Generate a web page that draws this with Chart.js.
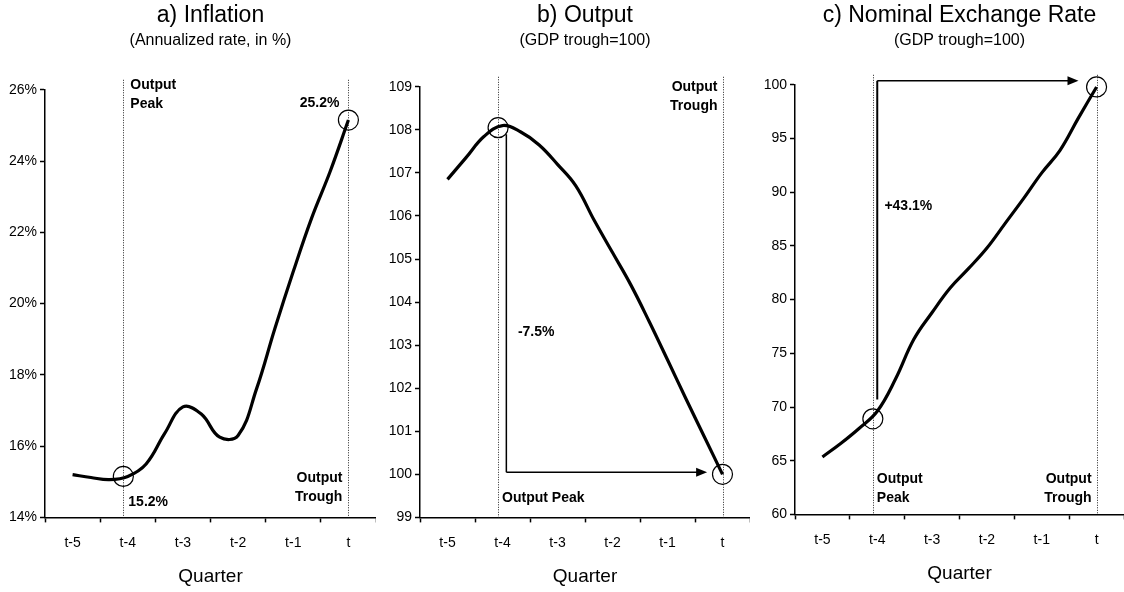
<!DOCTYPE html>
<html>
<head>
<meta charset="utf-8">
<script src="https://cdn.jsdelivr.net/npm/chart.js"></script>
<style>
  body { margin: 0; background: #fff; }
  .panel { position: absolute; top: 0; height: 592px; }
</style>
</head>
<body>
<div class="panel" style="left:0;width:376px"><canvas id="chartA"></canvas></div>
<div class="panel" style="left:375px;width:375px"><canvas id="chartB"></canvas></div>
<div class="panel" style="left:750px;width:374px"><canvas id="chartC"></canvas></div>
<script>
// quarters before the output trough, monthly steps (t-5 ... t)
const quarterLabels = ['t-5', 't-4', 't-3', 't-2', 't-1', 't'];
const months = [-5, -4.667, -4.333, -4, -3.667, -3.333, -3, -2.667, -2.333, -2, -1.667, -1.333, -1, -0.667, -0.333, 0];

const inflation = [15.2, 15.12, 15.06, 15.15, 15.5, 16.35, 17.1, 16.9, 16.25, 16.3, 17.6, 19.3, 20.9, 22.4, 23.7, 25.15];
const output    = [106.85, 107.35, 107.85, 108.1, 107.95, 107.65, 107.2, 106.7, 105.9, 105.15, 104.4, 103.55, 102.66, 101.76, 100.88, 100.0];
const exchange  = [65.35, 66.6, 68.0, 69.6, 72.6, 76.3, 78.8, 81.1, 82.9, 84.8, 87.1, 89.4, 91.8, 93.9, 96.9, 99.8];

// circled values at output peak and output trough
const peakQ = -4.08;
const inflationMarks = [15.15, 25.15];
const outputMarks = [108.05, 100.0];
const exchangeMarks = [68.9, 99.8];

const FONT = "'Liberation Sans', Arial, sans-serif";
Chart.defaults.font.family = FONT;
Chart.defaults.color = '#000';

function isWhole(v) { return Math.abs(v - Math.round(v)) < 1e-6; }

function notes(p) {
  return {
    id: 'notes' + p.id,
    beforeDatasetsDraw(chart) {
      const x = chart.scales.x, c = chart.ctx, a = chart.chartArea;
      c.save();
      c.strokeStyle = '#222';
      c.lineWidth = 1;
      c.setLineDash([1, 1.5]);
      [peakQ, 0].forEach(q => {
        const px = Math.round(x.getPixelForValue(q)) + 0.5;
        c.beginPath();
        c.moveTo(px, a.top - 10);
        c.lineTo(px, a.bottom);
        c.stroke();
      });
      c.restore();
    },
    afterDatasetsDraw(chart) {
      const x = chart.scales.x, y = chart.scales.y, c = chart.ctx;
      c.save();
      c.strokeStyle = '#000';
      c.fillStyle = '#000';
      // circles at peak and trough
      c.lineWidth = 1.2;
      [[peakQ, p.marks[0]], [0, p.marks[1]]].forEach(m => {
        c.beginPath();
        c.arc(x.getPixelForValue(m[0]), y.getPixelForValue(m[1]), 10, 0, Math.PI * 2);
        c.stroke();
      });
      (p.arrows || []).forEach(ar => {
        const x1 = x.getPixelForValue(ar.from[0]), y1 = y.getPixelForValue(ar.from[1]);
        const x2 = x.getPixelForValue(ar.to[0]), y2 = y.getPixelForValue(ar.to[1]);
        c.lineWidth = ar.width || 1.5;
        c.beginPath();
        c.moveTo(x1, y1);
        c.lineTo(ar.head ? x2 - 8 : x2, y2);
        c.stroke();
        if (ar.head) {
          c.beginPath();
          c.moveTo(x2, y2);
          c.lineTo(x2 - 11, y2 - 4.5);
          c.lineTo(x2 - 11, y2 + 4.5);
          c.closePath();
          c.fill();
        }
      });
      c.font = 'bold 14px ' + FONT;
      c.textBaseline = 'middle';
      p.texts.forEach(t => {
        c.textAlign = t.align;
        const px = x.getPixelForValue(t.q) + (t.dx || 0);
        const py = y.getPixelForValue(t.v);
        t.lines.forEach((s, i) => c.fillText(s, px, py + i * 19));
      });
      c.restore();
    }
  };
}

function drawPanel(p) {
  new Chart(document.getElementById(p.id), {
    type: 'line',
    data: {
      datasets: [{
        data: months.map((m, i) => ({ x: m, y: p.values[i] })),
        borderColor: '#000',
        borderWidth: 3.2,
        pointRadius: 0,
        tension: 0.4,
        clip: false
      }]
    },
    options: {
      responsive: true,
      maintainAspectRatio: false,
      animation: false,
      layout: { padding: { left: 0, right: 0, top: 0, bottom: p.bottom } },
      plugins: {
        legend: { display: false },
        tooltip: { enabled: false },
        title: {
          display: true, text: p.title, fullSize: false,
          font: { size: 23, weight: 'normal' }, color: '#000',
          padding: { top: 2, bottom: 0 }
        },
        subtitle: {
          display: true, text: p.subtitle, fullSize: false,
          font: { size: 16 }, color: '#000',
          padding: { top: 1, bottom: p.gap }
        }
      },
      scales: {
        x: {
          type: 'linear', min: -5.5, max: 0.5,
          afterFit: s => { s.paddingLeft = 0; s.paddingRight = 0; },
          border: { display: true, color: '#000', width: 1.5 },
          grid: {
            drawOnChartArea: false, tickLength: 5, tickWidth: 1.5,
            tickColor: ctx => isWhole(ctx.tick.value) ? 'rgba(0,0,0,0)' : '#000'
          },
          ticks: {
            stepSize: 0.5, autoSkip: false, maxRotation: 0, padding: 12,
            font: { size: 14 },
            callback: v => isWhole(v) ? (quarterLabels[Math.round(v) + 5] || '') : ''
          },
          title: {
            display: true, text: 'Quarter', font: { size: 19 }, color: '#000',
            padding: { top: 2, bottom: 4 }
          }
        },
        y: {
          min: p.min, max: p.max,
          afterFit: s => { s.width = 45; },
          border: { display: true, color: '#000', width: 1.5 },
          grid: { drawOnChartArea: false, tickLength: 5, tickWidth: 1.5, tickColor: '#000' },
          ticks: { stepSize: p.step, padding: 3, font: { size: 14 }, callback: p.fmt }
        }
      }
    },
    plugins: [notes(p)]
  });
}

drawPanel({
  id: 'chartA', title: 'a) Inflation', subtitle: '(Annualized rate, in %)',
  values: inflation, marks: inflationMarks, min: 14, max: 26, step: 2, gap: 40, bottom: 0,
  fmt: v => v + '%',
  texts: [
    { lines: ['Output', 'Peak'], q: peakQ, v: 26.14, dx: 7, align: 'left' },
    { lines: ['25.2%'], q: 0, v: 25.63, dx: -9, align: 'right' },
    { lines: ['15.2%'], q: peakQ, v: 14.43, dx: 5, align: 'left' },
    { lines: ['Output', 'Trough'], q: 0, v: 15.09, dx: -6, align: 'right' }
  ]
});

drawPanel({
  id: 'chartB', title: 'b) Output', subtitle: '(GDP trough=100)',
  values: output, marks: outputMarks, min: 99, max: 109, step: 1, gap: 37, bottom: 0,
  fmt: v => v,
  arrows: [
    { from: [-3.93, 107.9], to: [-3.93, 100.05] },
    { from: [-3.93, 100.05], to: [-0.28, 100.05], head: true }
  ],
  texts: [
    { lines: ['Output', 'Trough'], q: 0, v: 109.0, dx: -5, align: 'right' },
    { lines: ['-7.5%'], q: -3.72, v: 103.3, align: 'left' },
    { lines: ['Output Peak'], q: peakQ, v: 99.44, dx: 4, align: 'left' }
  ]
});

drawPanel({
  id: 'chartC', title: 'c) Nominal Exchange Rate', subtitle: '(GDP trough=100)',
  values: exchange, marks: exchangeMarks, min: 60, max: 100, step: 5, gap: 35, bottom: 3,
  fmt: v => v,
  arrows: [
    { from: [-4.0, 70.7], to: [-4.0, 100.37], width: 2 },
    { from: [-4.0, 100.37], to: [-0.33, 100.37], head: true, width: 1.5 }
  ],
  texts: [
    { lines: ['+43.1%'], q: -3.87, v: 88.7, align: 'left' },
    { lines: ['Output', 'Peak'], q: peakQ, v: 63.26, dx: 4, align: 'left' },
    { lines: ['Output', 'Trough'], q: 0, v: 63.26, dx: -5, align: 'right' }
  ]
});
</script>
</body>
</html>
